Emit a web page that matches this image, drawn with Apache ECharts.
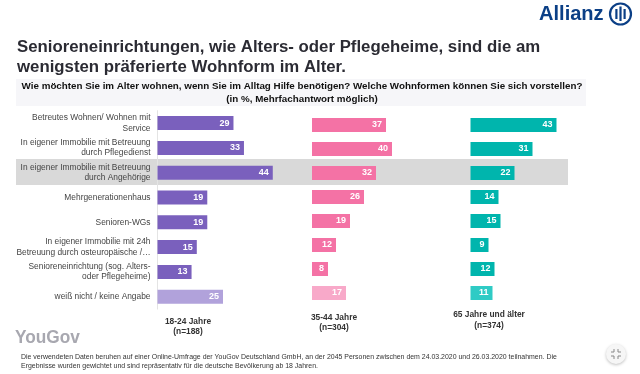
<!DOCTYPE html>
<html><head><meta charset="utf-8">
<style>html,body{margin:0;padding:0;background:#fff}#c{width:640px;height:374px}</style>
<script src="https://cdn.jsdelivr.net/npm/echarts@6/dist/echarts.min.js"></script>
</head><body><div id="c"></div>
<script>
const categories = [
  "Betreutes Wohnen/ Wohnen mit\nService",
  "In eigener Immobilie mit Betreuung\ndurch Pflegedienst",
  "In eigener Immobilie mit Betreuung\ndurch Angehörige",
  "Mehrgenerationenhaus",
  "Senioren-WGs",
  "In eigener Immobilie mit 24h\nBetreuung durch osteuropäische /…",
  "Senioreneinrichtung (sog. Alters-\noder Pflegeheime)",
  "weiß nicht / keine Angabe"
];
const age18to24 = [29, 33, 44, 19, 19, 15, 13, 25];
const age35to44 = [37, 40, 32, 26, 19, 12, 8, 17];
const age65plus = [43, 31, 22, 14, 15, 9, 12, 11];
const groupLabels = ["18-24 Jahre\n(n=188)", "35-44 Jahre\n(n=304)", "65 Jahre und älter\n(n=374)"];
const titleText = "Senioreneinrichtungen, wie Alters- oder Pflegeheime, sind die am\nwenigsten präferierte Wohnform im Alter.";
const questionText = "Wie möchten Sie im Alter wohnen, wenn Sie im Alltag Hilfe benötigen? Welche Wohnformen können Sie sich vorstellen?\n(in %, Mehrfachantwort möglich)";
const footText = "Die verwendeten Daten beruhen auf einer Online-Umfrage der YouGov Deutschland GmbH, an der 2045 Personen zwischen dem 24.03.2020 und 26.03.2020 teilnahmen. Die\nErgebnisse wurden gewichtet und sind repräsentativ für die deutsche Bevölkerung ab 18 Jahren.";

const FONT = '"Liberation Sans", Arial, sans-serif';
const grids = [
  {left: 157.5, top: 110.7, width: 131, height: 198.4},
  {left: 312, top: 113, width: 100, height: 192},
  {left: 470.5, top: 113, width: 100, height: 192}
];
const palettes = [["#7a60bd", "#b1a2db"], ["#f472a5", "#f8a9c9"], ["#00b5ad", "#2fcbc5"]];
const allData = [age18to24, age35to44, age65plus];

const text = (x, y, t, s, extra) => Object.assign({type: "text", x, y, z: 5, silent: true,
  style: Object.assign({text: t, fontFamily: FONT}, s)}, extra || {});

const chart = echarts.init(document.getElementById("c"), null, {renderer: "canvas"});
chart.setOption({
  animation: false,
  backgroundColor: "#fff",
  grid: grids,
  xAxis: grids.map((g, i) => ({gridIndex: i, type: "value", min: 0, max: 50, show: false})),
  yAxis: grids.map((g, i) => ({
    gridIndex: i, type: "category", inverse: true, data: categories,
    axisTick: {show: false},
    axisLine: {show: i === 0, lineStyle: {color: "#e4e4e4", width: 1}},
    axisLabel: i === 0 ? {show: true, interval: 0, margin: 7, align: "right", lineHeight: 10.5,
      fontSize: 8.4, color: "#444", fontFamily: FONT} : {show: false}
  })),
  series: allData.map((d, i) => ({
    type: "bar", xAxisIndex: i, yAxisIndex: i, barWidth: 14, z: 3,
    data: d.map((v, k) => ({value: v, itemStyle: {color: palettes[i][k === d.length - 1 ? 1 : 0]}})),
    label: {show: true, position: "insideRight", distance: 4, color: "#fff",
      fontWeight: "bold", fontSize: 9, fontFamily: FONT}
  })),
  graphic: [
    {type: "rect", silent: true, z: -1, shape: {x: 16, y: 159, width: 552, height: 26}, style: {fill: "#d9d9d9"}},
    {type: "rect", silent: true, z: -1, shape: {x: 16, y: 79, width: 570, height: 27}, style: {fill: "#f6f6f9"}},
    text(17, 38, titleText, {fontSize: 16.8, fontWeight: "bold", lineHeight: 19.5, fill: "#2b2b33"}),
    text(302, 80, questionText, {fontSize: 9.8, fontWeight: "bold", lineHeight: 13, fill: "#111", align: "center"}),
    text(188, 316, groupLabels[0], {fontSize: 8.4, fontWeight: "bold", lineHeight: 10.5, fill: "#333", align: "center"}),
    text(334, 312, groupLabels[1], {fontSize: 8.4, fontWeight: "bold", lineHeight: 10.5, fill: "#333", align: "center"}),
    text(489, 309.5, groupLabels[2], {fontSize: 8.4, fontWeight: "bold", lineHeight: 10.5, fill: "#333", align: "center"}),
    text(21, 352, footText, {fontSize: 6.95, lineHeight: 9.5, fill: "#333"}),
    text(15, 329, "YouGov", {fontSize: 18, fill: "#a8a8b0", fontWeight: "bold"}, {scaleX: 0.96}),
    text(539, 3.5, "Allianz", {fontSize: 21, fontWeight: "bold", fill: "#0b3f86"}, {scaleX: 0.955}),
    {type: "circle", silent: true, z: 5, shape: {cx: 620.5, cy: 14, r: 10.5}, style: {fill: "none", stroke: "#0b3f86", lineWidth: 2.2}},
    {type: "rect", silent: true, z: 5, shape: {x: 615.3, y: 9, width: 2.2, height: 10}, style: {fill: "#0b3f86"}},
    {type: "rect", silent: true, z: 5, shape: {x: 619.4, y: 6.5, width: 2.2, height: 14.5}, style: {fill: "#0b3f86"}},
    {type: "rect", silent: true, z: 5, shape: {x: 623.5, y: 9, width: 2.2, height: 10}, style: {fill: "#0b3f86"}},
    {type: "circle", silent: true, z: 5, shape: {cx: 616, cy: 354, r: 10},
      style: {fill: "#f6f6f6", shadowBlur: 3, shadowColor: "rgba(0,0,0,0.25)", shadowOffsetY: 1}},
    {type: "polyline", silent: true, z: 6, shape: {points: [[614,349],[614,352],[611,352]]}, style: {fill: "none", stroke: "#888", lineWidth: 1}},
    {type: "polyline", silent: true, z: 6, shape: {points: [[618,349],[618,352],[621,352]]}, style: {fill: "none", stroke: "#888", lineWidth: 1}},
    {type: "polyline", silent: true, z: 6, shape: {points: [[614,359],[614,356],[611,356]]}, style: {fill: "none", stroke: "#888", lineWidth: 1}},
    {type: "polyline", silent: true, z: 6, shape: {points: [[618,359],[618,356],[621,356]]}, style: {fill: "none", stroke: "#888", lineWidth: 1}}
  ]
});
</script></body></html>
